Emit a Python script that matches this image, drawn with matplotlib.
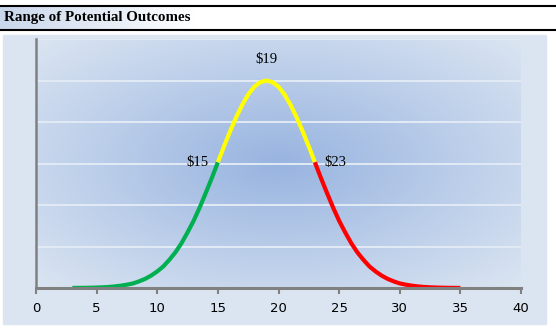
import numpy as np
import matplotlib.pyplot as plt
from matplotlib.patches import Rectangle
from matplotlib.colors import LinearSegmentedColormap

# values (y in gridline units, peak at 5), half-unit steps
x_vals = list(np.arange(3, 35.5, 0.5))
left_half = [0.002, 0.003, 0.004, 0.007, 0.011, 0.017, 0.025, 0.038, 0.056,
             0.080, 0.11, 0.16, 0.22, 0.30, 0.40, 0.52, 0.68, 0.86, 1.08,
             1.34, 1.62, 1.94, 2.29, 2.65, 3.03, 3.41, 3.77, 4.11, 4.41,
             4.66, 4.85, 4.96, 5.00]
y_vals = left_half + left_half[-2::-1]
low_cut = 15
high_cut = 23
labels = ['$15', '$19', '$23']
label_x = [15, 19, 23]
xticks = [0, 5, 10, 15, 20, 25, 30, 35, 40]
title = 'Range of Potential Outcomes'

x = np.array(x_vals)
y = np.array(y_vals)

W, H = 556, 331
fig = plt.figure(figsize=(W / 100, H / 100), dpi=100)
fig.patch.set_facecolor('white')

# header: lines and faint gradient behind title
fig.add_artist(plt.Line2D([0, 1], [1 - 6 / H, 1 - 6 / H], color='black', lw=1.5))
fig.add_artist(plt.Line2D([0, 1], [1 - 29.5 / H, 1 - 29.5 / H], color='black', lw=1.5))
hg = fig.add_axes([0, 1 - 29 / H, 0.35, 23 / H])
hg.imshow(np.linspace(0, 1, 200)[None, :], aspect='auto',
          cmap=LinearSegmentedColormap.from_list('h', ['#c9d7ec', '#ffffff']),
          extent=[0, 1, 0, 1])
hg.axis('off')
fig.text(4 / W, 1 - 18 / H, title, fontsize=10.8, fontweight='bold',
         family='Liberation Serif', va='center', ha='left')

# chart panel
fig.add_artist(Rectangle((3 / W, 1 - 324 / H), 543 / W, 289 / H,
                         transform=fig.transFigure, color='#dbe5f1', zorder=0))

ax = fig.add_axes([36 / W, 1 - 288 / H, 485 / W, 249 / H])
ax.set_xlim(0, 40)
ax.set_ylim(0, 6)

# radial gradient plot area
gx, gy = np.meshgrid(np.linspace(-1, 1, 400), np.linspace(-1, 1, 250))
r = np.clip(np.sqrt(gx ** 2 + gy ** 2) / np.sqrt(2), 0, 1)
cmap = LinearSegmentedColormap.from_list('g', ['#98b4e0', '#dbe5f2'])
ax.imshow(r, extent=[0, 40, 0, 6], aspect='auto', cmap=cmap, zorder=0)

for g in range(1, 7):
    ax.axhline(g, color='#e2eaf5', lw=1.4, zorder=1)

m1 = x <= low_cut
m2 = (x >= low_cut) & (x <= high_cut)
m3 = x >= high_cut
ax.plot(x[m1], y[m1], color='#00b050', lw=3, zorder=3, solid_capstyle='butt')
ax.plot(x[m2], y[m2], color='#ffff00', lw=3, zorder=3, solid_capstyle='butt')
ax.plot(x[m3], y[m3], color='#ff0000', lw=3, zorder=3, solid_capstyle='butt')

lab_y = [y[x_vals.index(v)] for v in label_x]
ax.text(label_x[0] - 0.8, lab_y[0], labels[0], ha='right', va='center',
        family='Liberation Serif', fontsize=10.5)
ax.text(label_x[1], lab_y[1] + 0.5, labels[1], ha='center', va='center',
        family='Liberation Serif', fontsize=10.5)
ax.text(label_x[2] + 0.8, lab_y[2], labels[2], ha='left', va='center',
        family='Liberation Serif', fontsize=10.5)

for s in ['top', 'right']:
    ax.spines[s].set_visible(False)
ax.spines['bottom'].set_color('#808080')
ax.spines['bottom'].set_linewidth(2.2)
ax.spines['left'].set_color('#808080')
ax.spines['left'].set_linewidth(1.8)
ax.spines['bottom'].set_zorder(4)
ax.set_xticks(xticks)
ax.set_xticklabels([str(t) for t in xticks])
ax.set_yticks([])
ax.tick_params(axis='x', length=4, width=1.5, color='#808080', labelsize=9.5,
               pad=6)

fig.savefig('out.png', dpi=100)
